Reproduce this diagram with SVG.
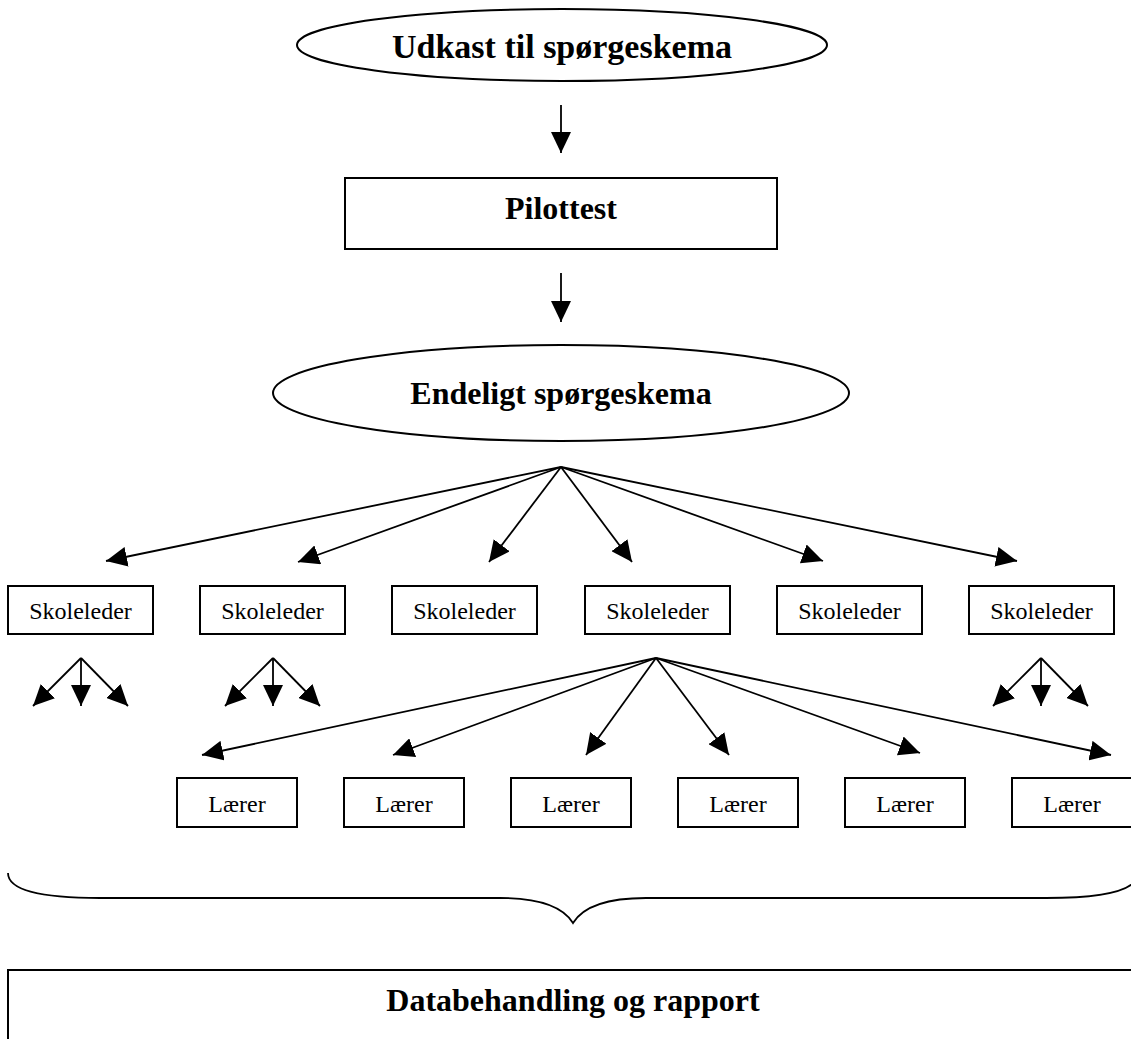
<svg xmlns="http://www.w3.org/2000/svg" width="1131" height="1039" viewBox="0 0 1131 1039">
<style>
.shape{fill:#fff;stroke:#000;stroke-width:2}
.conn{stroke:#000;stroke-width:1.8;fill:none}
.b{font-family:"Liberation Serif",serif;font-weight:bold;font-size:32px;text-anchor:middle;fill:#000}
.r{font-family:"Liberation Serif",serif;font-size:24px;text-anchor:middle;fill:#000}
</style>
<defs>
<marker id="ah" markerUnits="userSpaceOnUse" markerWidth="21" markerHeight="20" refX="21" refY="10" orient="auto" viewBox="0 0 21 20">
<path d="M0,0 L21,10 L0,20 z" fill="#000"/>
</marker>
</defs>
<rect width="1131" height="1039" fill="#fff"/>
<g id="udkast"><ellipse class="shape" cx="562" cy="45" rx="265" ry="36"/><text class="b" x="562" y="58" style="font-size:34px">Udkast til spørgeskema</text></g>
<g id="pilottest"><rect class="shape" x="345" y="178" width="432" height="71"/><text class="b" x="561" y="219">Pilottest</text></g>
<g id="endeligt"><ellipse class="shape" cx="561" cy="393" rx="288" ry="48"/><text class="b" x="561" y="404">Endeligt spørgeskema</text></g>
<g id="skoleleder1"><rect class="shape" x="8" y="586" width="145" height="48"/><text class="r" x="80.5" y="619">Skoleleder</text></g>
<g id="skoleleder2"><rect class="shape" x="200" y="586" width="145" height="48"/><text class="r" x="272.5" y="619">Skoleleder</text></g>
<g id="skoleleder3"><rect class="shape" x="392" y="586" width="145" height="48"/><text class="r" x="464.5" y="619">Skoleleder</text></g>
<g id="skoleleder4"><rect class="shape" x="585" y="586" width="145" height="48"/><text class="r" x="657.5" y="619">Skoleleder</text></g>
<g id="skoleleder5"><rect class="shape" x="777" y="586" width="145" height="48"/><text class="r" x="849.5" y="619">Skoleleder</text></g>
<g id="skoleleder6"><rect class="shape" x="969" y="586" width="145" height="48"/><text class="r" x="1041.5" y="619">Skoleleder</text></g>
<g id="laerer1"><rect class="shape" x="177" y="778" width="120" height="49"/><text class="r" x="237" y="812">Lærer</text></g>
<g id="laerer2"><rect class="shape" x="344" y="778" width="120" height="49"/><text class="r" x="404" y="812">Lærer</text></g>
<g id="laerer3"><rect class="shape" x="511" y="778" width="120" height="49"/><text class="r" x="571" y="812">Lærer</text></g>
<g id="laerer4"><rect class="shape" x="678" y="778" width="120" height="49"/><text class="r" x="738" y="812">Lærer</text></g>
<g id="laerer5"><rect class="shape" x="845" y="778" width="120" height="49"/><text class="r" x="905" y="812">Lærer</text></g>
<g id="laerer6"><rect class="shape" x="1012" y="778" width="120" height="49"/><text class="r" x="1072" y="812">Lærer</text></g>
<g id="brace"><path class="conn" d="M8,873 C8,890 40,898 100,898 L500,898 C545,898 565,910 573,923 C581,910 601,898 646,898 L1046,898 C1106,898 1138,890 1138,873"/></g>
<g id="databehandling"><rect class="shape" x="8" y="970" width="1140" height="90"/><text class="b" x="573" y="1011">Databehandling og rapport</text></g>
<g id="connectors" class="conn" marker-end="url(#ah)">
<line x1="561" y1="105" x2="561" y2="153"/>
<line x1="561" y1="273" x2="561" y2="322"/>
<line x1="561" y1="467" x2="106" y2="561"/>
<line x1="561" y1="467" x2="298" y2="562"/>
<line x1="561" y1="467" x2="489" y2="562"/>
<line x1="561" y1="467" x2="632" y2="562"/>
<line x1="561" y1="467" x2="823" y2="561"/>
<line x1="561" y1="467" x2="1017" y2="561"/>
<line x1="81" y1="658" x2="33" y2="706"/>
<line x1="81" y1="658" x2="81" y2="706"/>
<line x1="81" y1="658" x2="128" y2="706"/>
<line x1="273" y1="658" x2="225" y2="706"/>
<line x1="273" y1="658" x2="273" y2="706"/>
<line x1="273" y1="658" x2="320" y2="706"/>
<line x1="1041" y1="658" x2="993" y2="706"/>
<line x1="1041" y1="658" x2="1041" y2="706"/>
<line x1="1041" y1="658" x2="1088" y2="706"/>
<line x1="656" y1="658" x2="202" y2="755"/>
<line x1="656" y1="658" x2="393" y2="755"/>
<line x1="656" y1="658" x2="586" y2="755"/>
<line x1="656" y1="658" x2="729" y2="755"/>
<line x1="656" y1="658" x2="920" y2="753"/>
<line x1="656" y1="658" x2="1111" y2="755"/>
</g>
</svg>
